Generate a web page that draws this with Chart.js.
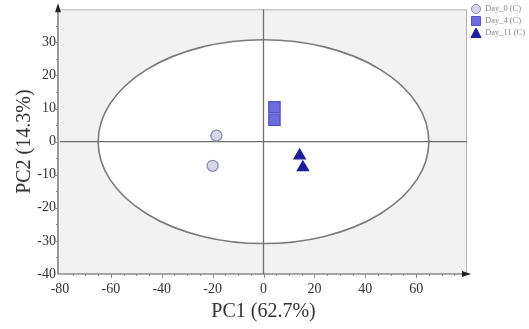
<!DOCTYPE html>
<html>
<head>
<meta charset="utf-8">
<script src="https://cdn.jsdelivr.net/npm/chart.js@4/dist/chart.umd.min.js"></script>
<style>
  html, body { margin: 0; padding: 0; background: #ffffff; }
  #wrap { width: 529px; height: 329px; }
</style>
</head>
<body>
<div id="wrap"><canvas id="c" width="529" height="329"></canvas></div>
<script>
// Scores on the first two principal components
const groupLabels = ['Day_0 (C)', 'Day_4 (C)', 'Day_11 (C)'];
const day0PC1 = [-18.5, -20];
const day0PC2 = [1.8, -7.3];
const day4PC1 = [4.3, 4.3];
const day4PC2 = [10.4, 6.6];
const day11PC1 = [14.2, 15.5];
const day11PC2 = [-4.2, -7.8];
const xTicks = [-80, -60, -40, -20, 0, 20, 40, 60];
const yTicks = [-40, -30, -20, -10, 0, 10, 20, 30];
// Hotelling T2 (95%) ellipse semi-axes
const ellipseA = 65;
const ellipseB = 30.8;

const toPoints = (xs, ys) => xs.map((x, i) => ({ x: x, y: ys[i] }));

const styles = [
  { bg: '#d6d6ec', border: '#8c8caa', shape: 'circle', r: 5.5 },
  { bg: '#6c6cdc', border: '#5252c4', shape: 'rect', r: 8 },
  { bg: '#1e1e9c', border: '#1e1e9c', shape: 'triangle', r: 6.5 }
];

const serif = '"Liberation Serif", "DejaVu Serif", serif';

const backdrop = {
  id: 'backdrop',
  beforeDatasetsDraw(chart) {
    const { ctx, chartArea: a, scales: { x, y } } = chart;
    ctx.save();
    ctx.fillStyle = '#f2f2f2';
    ctx.fillRect(a.left, a.top, a.right - a.left, a.bottom - a.top);
    // ellipse
    const cx = x.getPixelForValue(0), cy = y.getPixelForValue(0);
    const rx = x.getPixelForValue(ellipseA) - cx;
    const ry = cy - y.getPixelForValue(ellipseB);
    ctx.beginPath();
    ctx.ellipse(cx, cy, rx, ry, 0, 0, Math.PI * 2);
    ctx.fillStyle = '#ffffff';
    ctx.fill();
    ctx.lineWidth = 1.6;
    ctx.strokeStyle = '#7a7a7a';
    ctx.stroke();
    // frame (top & right)
    ctx.strokeStyle = '#b4b4b4';
    ctx.lineWidth = 1;
    ctx.beginPath();
    ctx.moveTo(a.left, a.top + 0.5);
    ctx.lineTo(a.right - 0.5, a.top + 0.5);
    ctx.lineTo(a.right - 0.5, a.bottom);
    ctx.stroke();
    // zero lines
    ctx.strokeStyle = '#6e6e6e';
    ctx.lineWidth = 1.3;
    ctx.beginPath();
    ctx.moveTo(cx, a.top);
    ctx.lineTo(cx, a.bottom);
    ctx.moveTo(a.left, cy);
    ctx.lineTo(a.right, cy);
    ctx.stroke();
    ctx.restore();
  },
  afterDraw(chart) {
    const { ctx, chartArea: a, scales: { x, y } } = chart;
    ctx.save();
    // axes with arrowheads
    ctx.strokeStyle = '#555555';
    ctx.fillStyle = '#222222';
    ctx.lineWidth = 1.2;
    const ax = a.left - 2, ay = a.bottom;
    ctx.beginPath();
    ctx.moveTo(ax, ay);
    ctx.lineTo(ax, a.top - 2);
    ctx.moveTo(ax, ay);
    ctx.lineTo(a.right + 2, ay);
    ctx.stroke();
    ctx.beginPath();
    ctx.moveTo(ax, a.top - 6);
    ctx.lineTo(ax - 3, a.top + 3);
    ctx.lineTo(ax + 3, a.top + 3);
    ctx.closePath();
    ctx.fill();
    ctx.beginPath();
    ctx.moveTo(a.right + 4, ay);
    ctx.lineTo(a.right - 5, ay - 3);
    ctx.lineTo(a.right - 5, ay + 3);
    ctx.closePath();
    ctx.fill();
    // minor ticks
    ctx.strokeStyle = '#888888';
    ctx.lineWidth = 1;
    ctx.beginPath();
    for (let v = -75; v <= 75; v += 5) {
      const px = Math.round(x.getPixelForValue(v)) + 0.5;
      const len = v % 20 === 0 ? 4 : 2;
      ctx.moveTo(px, ay);
      ctx.lineTo(px, ay + len);
    }
    for (let v = -35; v <= 35; v += 5) {
      const py = Math.round(y.getPixelForValue(v)) + 0.5;
      const len = v % 10 === 0 ? 4 : 2;
      ctx.moveTo(ax, py);
      ctx.lineTo(ax - len, py);
    }
    ctx.stroke();
    // legend
    const lx = a.right + 9;
    let ly = 9;
    ctx.font = '8.5px ' + serif;
    ctx.textBaseline = 'middle';
    chart.data.datasets.forEach((ds, i) => {
      const s = styles[i];
      ctx.fillStyle = s.bg;
      ctx.strokeStyle = s.border;
      ctx.lineWidth = 1;
      ctx.beginPath();
      if (s.shape === 'circle') {
        ctx.arc(lx, ly, 4.5, 0, Math.PI * 2);
      } else if (s.shape === 'rect') {
        ctx.rect(lx - 4.5, ly - 4.5, 9, 9);
      } else {
        ctx.moveTo(lx, ly - 5);
        ctx.lineTo(lx - 5, ly + 4.5);
        ctx.lineTo(lx + 5, ly + 4.5);
        ctx.closePath();
      }
      ctx.fill();
      ctx.stroke();
      ctx.fillStyle = '#8a8a8a';
      ctx.fillText(ds.label, lx + 9, ly);
      ly += 12;
    });
    ctx.restore();
  }
};

const datasets = [
  toPoints(day0PC1, day0PC2),
  toPoints(day4PC1, day4PC2),
  toPoints(day11PC1, day11PC2)
].map((data, i) => ({
  label: groupLabels[i],
  data: data,
  pointStyle: styles[i].shape,
  pointRadius: styles[i].r,
  pointHoverRadius: styles[i].r,
  pointBackgroundColor: styles[i].bg,
  pointBorderColor: styles[i].border,
  pointBorderWidth: 1.3,
  showLine: false
}));

new Chart(document.getElementById('c'), {
  type: 'scatter',
  data: { datasets: datasets },
  plugins: [backdrop],
  options: {
    responsive: false,
    animation: false,
    devicePixelRatio: 1,
    layout: { padding: { top: 8, right: 62, left: 0, bottom: 0 } },
    plugins: { legend: { display: false }, tooltip: { enabled: false } },
    scales: {
      x: {
        type: 'linear',
        min: -80,
        max: 80,
        afterBuildTicks(scale) { scale.ticks = xTicks.map(v => ({ value: v })); },
        afterFit(scale) { scale.height = 55; scale.paddingLeft = 0; scale.paddingRight = 0; },
        grid: { display: false, drawTicks: false },
        border: { display: false },
        ticks: { color: '#333333', font: { family: serif, size: 14 }, padding: 7 },
        title: { display: true, text: 'PC1 (62.7%)', color: '#333333', font: { family: serif, size: 20, lineHeight: 1 }, padding: { top: 0, bottom: 7 } }
      },
      y: {
        type: 'linear',
        min: -40,
        max: 40,
        afterBuildTicks(scale) { scale.ticks = yTicks.map(v => ({ value: v })); },
        afterFit(scale) { scale.width = 60; scale.paddingTop = 0; scale.paddingBottom = 0; },
        grid: { display: false, drawTicks: false },
        border: { display: false },
        ticks: { color: '#333333', font: { family: serif, size: 14 }, padding: 4 },
        title: { display: true, text: 'PC2 (14.3%)', color: '#333333', font: { family: serif, size: 20 }, padding: { top: 13, bottom: 0 } }
      }
    }
  }
});
</script>
</body>
</html>
